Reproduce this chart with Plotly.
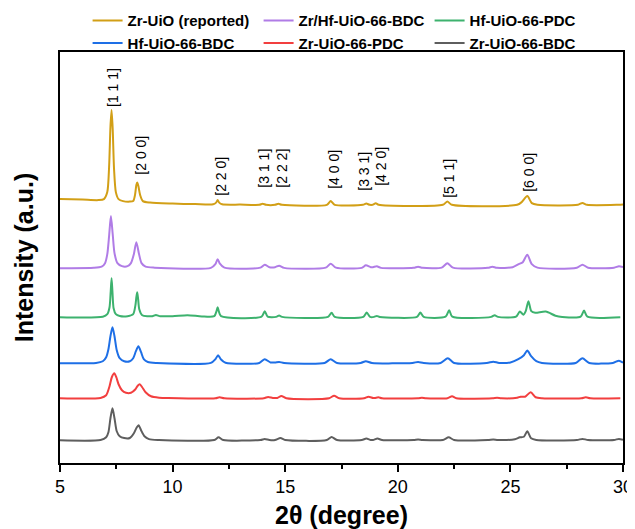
import plotly.graph_objects as go

# ---------------- data ----------------
names = ["Zr-UiO (reported)", "Zr/Hf-UiO-66-BDC", "Hf-UiO-66-PDC",
         "Hf-UiO-66-BDC", "Zr-UiO-66-PDC", "Zr-UiO-66-BDC"]
colors = ["#D29F16", "#B07CE6", "#3DB26E", "#1E6FE6", "#F23F3F", "#5E5E5E"]
offsets = [262, 199, 150, 104, 69, 27]

x_reported = [5.0, 6.0, 6.7, 6.95, 7.1, 7.18, 7.24, 7.29, 7.34, 7.4, 7.48, 7.6, 7.8, 8.1,
              8.25, 8.33, 8.39, 8.43, 8.48, 8.56, 8.68, 9.0, 10.0, 11.0, 11.8, 11.93, 12.0,
              12.07, 12.2, 13.0, 13.85, 14.0, 14.15, 14.55, 14.7, 14.85, 16.85, 17.02, 17.2,
              18.45, 18.6, 18.75, 18.88, 19.02, 19.15, 22.0, 22.2, 22.4, 25.3, 25.5, 25.75,
              25.95, 26.2, 28.0, 28.2, 28.4, 29.8, 30.0]
y_reported = [6, 5.5, 5, 6, 13, 38, 78, 95, 76, 36, 13, 6, 4, 3.5,
              4, 10, 20, 22.5, 19, 10, 4, 2.5, 1.5, 1, 0.8, 2.5, 5,
              2.5, 0.8, 0.5, 0.3, 1.3, 0.3, 0.3, 1.3, 0.3, 0.3, 4, 0.3,
              0.3, 1.5, 0.3, 0.3, 1.8, 0.3, 0.3, 3.6, 0.3, 0.3, 3, 9,
              2, 0.3, 0.3, 2.2, 0.3, 0.3, 0.5]

x_zrhf_bdc = [5.0, 6.5, 6.85, 7.0, 7.1, 7.18, 7.26, 7.34, 7.42, 7.55, 7.75, 8.0, 8.15, 8.28,
              8.39, 8.5, 8.62, 8.8, 9.2, 11.7, 11.9, 12.0, 12.1, 12.3, 13.9, 14.09, 14.3,
              14.55, 14.73, 14.95, 16.8, 17.02, 17.25, 18.4, 18.58, 18.8, 18.9, 19.07, 19.25,
              20.7, 20.9, 21.1, 21.95, 22.2, 22.45, 24.0, 24.2, 24.4, 25.1, 25.37, 25.55,
              25.75, 25.95, 26.2, 27.95, 28.2, 28.45, 29.6, 29.82, 30.0]
y_zrhf_bdc = [0, 0.3, 1.5, 5, 14, 32, 52, 34, 15, 5, 2, 2, 5, 14,
              26, 15, 5, 1.5, 0.5, 0.3, 4, 9, 4.5, 0.5, 0.5, 3.5, 1,
              1, 2.5, 0.3, 0.5, 4.5, 0.5, 0.3, 2.8, 1, 1, 1.8, 0.3,
              0.3, 1.5, 0.3, 0.5, 5, 0.5, 0.3, 1.5, 0.3, 1, 4, 6,
              13.5, 4, 0.5, 0.5, 3.5, 0.5, 0.5, 2, 1]

x_hf_pdc = [5.0, 6.9, 7.1, 7.2, 7.25, 7.29, 7.33, 7.38, 7.48, 7.65, 8.0, 8.25, 8.35, 8.39,
            8.43, 8.47, 8.52, 8.65, 8.9, 9.1, 9.26, 9.45, 10.0, 10.66, 11.3, 11.85, 11.95,
            12.0, 12.05, 12.15, 13.95, 14.09, 14.22, 14.6, 14.73, 14.86, 16.9, 17.06, 17.2,
            18.47, 18.62, 18.77, 18.95, 19.07, 19.2, 20.85, 21.0, 21.15, 22.12, 22.28, 22.42,
            24.15, 24.3, 24.45, 25.25, 25.42, 25.58, 25.68, 25.8, 25.93, 26.1, 26.57, 27.0,
            27.3, 28.12, 28.27, 28.42, 29.88]
y_hf_pdc = [0, 0.5, 3, 10, 25, 39, 25, 9, 3, 1.2, 1, 3, 12, 20,
            25, 18, 8, 2, 1, 1, 2.2, 1, 1, 2, 0.8, 1, 6,
            10, 6, 1, 0.5, 6, 0.5, 0.3, 1.6, 0.3, 0.3, 4.5, 0.3,
            0.3, 4.6, 0.3, 0.3, 1.3, 0.3, 0.3, 4.6, 0.3, 0.5, 7, 0.5,
            0.3, 2, 0.3, 0.5, 5.6, 2.5, 6, 16, 6, 4.5, 5.6, 1.5,
            0.3, 0.5, 6.6, 0.5, 0]

x_hf_bdc = [5.0, 6.6, 6.9, 7.05, 7.15, 7.24, 7.33, 7.42, 7.52, 7.65, 7.85, 8.1, 8.25, 8.37,
            8.48, 8.6, 8.72, 8.9, 9.3, 11.7, 11.9, 12.02, 12.14, 12.35, 13.85, 14.09, 14.35,
            14.55, 14.73, 14.95, 16.75, 17.02, 17.3, 18.35, 18.58, 18.85, 20.65, 20.9, 21.15,
            21.9, 22.22, 22.5, 23.95, 24.24, 24.5, 25.0, 25.35, 25.6, 25.75, 25.92, 26.15,
            26.4, 27.9, 28.2, 28.5, 29.55, 29.82, 30.0]
y_hf_bdc = [0, 0.3, 2, 6, 14, 27, 36, 27, 13, 5, 2, 2, 5, 12,
            17, 11, 4, 1.2, 0.3, 0.3, 4, 8, 4, 0.5, 0.3, 4, 0.8,
            0.8, 1.3, 0.3, 0.3, 4, 0.3, 0.3, 2, 0.3, 0.3, 1.3, 0.3,
            0.3, 5, 0.3, 0.3, 1.6, 0.3, 0.8, 4, 8, 12.6, 7, 2,
            0.3, 0.3, 5, 0.3, 0.3, 2.6, 0.5]

x_zr_pdc = [5.0, 6.8, 7.05, 7.2, 7.3, 7.41, 7.5, 7.6, 7.75, 7.93, 8.15, 8.35, 8.45, 8.54,
            8.65, 8.8, 9.04, 9.4, 9.8, 11.9, 12.08, 12.3, 14.05, 14.24, 14.45, 14.65, 14.83,
            15.05, 16.95, 17.17, 17.4, 18.5, 18.7, 18.9, 18.98, 19.14, 19.3, 20.9, 21.07,
            21.25, 22.2, 22.41, 22.6, 24.2, 24.41, 24.6, 25.3, 25.45, 25.65, 25.9, 26.12,
            26.4, 28.15, 28.35, 28.55, 29.88]
y_zr_pdc = [0, 0.3, 3, 12, 21, 25, 21, 14, 8, 5.5, 5.5, 9, 12.5, 14,
            11, 6, 2, 0.6, 0.2, 0, 1, 0, 0, 1.3, 0.3, 0.3, 2.3,
            0, 0, 2.6, 0, 0, 1.6, 0.3, 0.3, 1, 0, 0, 0.6,
            0, 0, 2, 0, 0, 0.5, 0, 0.5, 1.6, 1.5, 6, 1,
            0, 0, 1, 0, 0]

x_zr_bdc = [5.0, 6.8, 7.05, 7.15, 7.24, 7.33, 7.42, 7.52, 7.65, 7.85, 8.1, 8.28, 8.4, 8.49,
            8.6, 8.75, 8.95, 9.4, 11.85, 12.04, 12.25, 13.9, 14.09, 14.3, 14.55, 14.79, 15.0,
            16.85, 17.06, 17.3, 18.4, 18.6, 18.8, 18.9, 19.1, 19.3, 20.7, 20.9, 21.1, 22.0,
            22.26, 22.5, 24.0, 24.24, 24.45, 25.2, 25.42, 25.6, 25.75, 25.92, 26.15, 27.95,
            28.2, 28.45, 29.6, 29.82, 30.0]
y_zr_bdc = [0, 0.3, 3, 8, 22, 32, 22, 9, 4, 2.2, 2.3, 7, 12.5, 15,
            10, 4, 1.2, 0.3, 0.3, 3, 0.3, 0.3, 1.3, 0.3, 0.3, 2.3, 0.3,
            0.3, 3.3, 0.3, 0.3, 1.7, 0.3, 0.3, 1.7, 0.3, 0.3, 0.7, 0.3, 0.3,
            3, 0.3, 0.3, 0.7, 0.3, 1, 3, 3.5, 9, 2, 0.3, 0.3,
            1.4, 0.3, 0.3, 1.4, 0.5]

xs = [x_reported, x_zrhf_bdc, x_hf_pdc, x_hf_bdc, x_zr_pdc, x_zr_bdc]
ys = [y_reported, y_zrhf_bdc, y_hf_pdc, y_hf_bdc, y_zr_pdc, y_zr_bdc]

hkl_labels = ["[1 1 1]", "[2 0 0]", "[2 2 0]", "[3 1 1]", "[2 2 2]",
              "[4 0 0]", "[3 3 1]", "[4 2 0]", "[5 1 1]", "[6 0 0]"]
hkl_x = [7.33, 8.60, 12.11, 14.06, 14.86, 17.13, 18.46, 19.22, 22.24, 25.79]
hkl_y = [359, 291, 270, 278, 278, 277, 275, 280, 268, 274]

# ---------------- figure ----------------
# the page body adds an 8px offset, so the figure is sized to the visible area
fig = go.Figure()
for name, col, off, xv, yv in zip(names, colors, offsets, xs, ys):
    fig.add_trace(go.Scatter(
        x=xv, y=[off + v for v in yv], mode="lines", name=name,
        line=dict(color=col, width=2, shape="spline", smoothing=0.7),
    ))

for lab, lx, ly in zip(hkl_labels, hkl_x, hkl_y):
    fig.add_annotation(x=lx, y=ly, xref="x", yref="y", text=lab, showarrow=False,
                       textangle=-90, xanchor="center", yanchor="bottom",
                       font=dict(family="Liberation Sans, Arial", size=14, color="black"),
                       borderpad=0)

fig.update_layout(
    width=627, height=521,
    margin=dict(l=52, r=12, t=44, b=66, autoexpand=False),
    paper_bgcolor="white", plot_bgcolor="white",
    font=dict(family="Liberation Sans, Arial", color="black"),
    showlegend=True,
    legend=dict(orientation="h", x=0.049, y=1.116, xanchor="left", yanchor="top",
                entrywidth=126, entrywidthmode="pixels",
                font=dict(family="Liberation Sans, Arial", size=15, color="black",
                          weight="bold"),
                bgcolor="rgba(0,0,0,0)", tracegroupgap=0, itemwidth=30),
    xaxis=dict(range=[5, 30], dtick=5, tick0=5, ticks="outside", ticklen=7, tickwidth=1.5,
               tickcolor="black", showline=True, linecolor="black", linewidth=1.5,
               mirror=True, showgrid=False, zeroline=False, automargin=False,
               tickfont=dict(size=18, color="black"),
               minor=dict(dtick=2.5, tick0=5, ticks="outside", ticklen=4, tickwidth=1.5,
                          tickcolor="black", showgrid=False),
               title=dict(text="2θ (degree)", standoff=22,
                          font=dict(size=25, color="black", weight="bold"))),
    yaxis=dict(range=[4.3, 415], showline=True, linecolor="black", linewidth=1.5,
               mirror=True, ticks="", showticklabels=False, showgrid=False,
               zeroline=False, automargin=False,
               title=dict(text="Intensity (a.u.)", standoff=18,
                          font=dict(size=25, color="black", weight="bold"))),
)

fig.write_html("out.html")
